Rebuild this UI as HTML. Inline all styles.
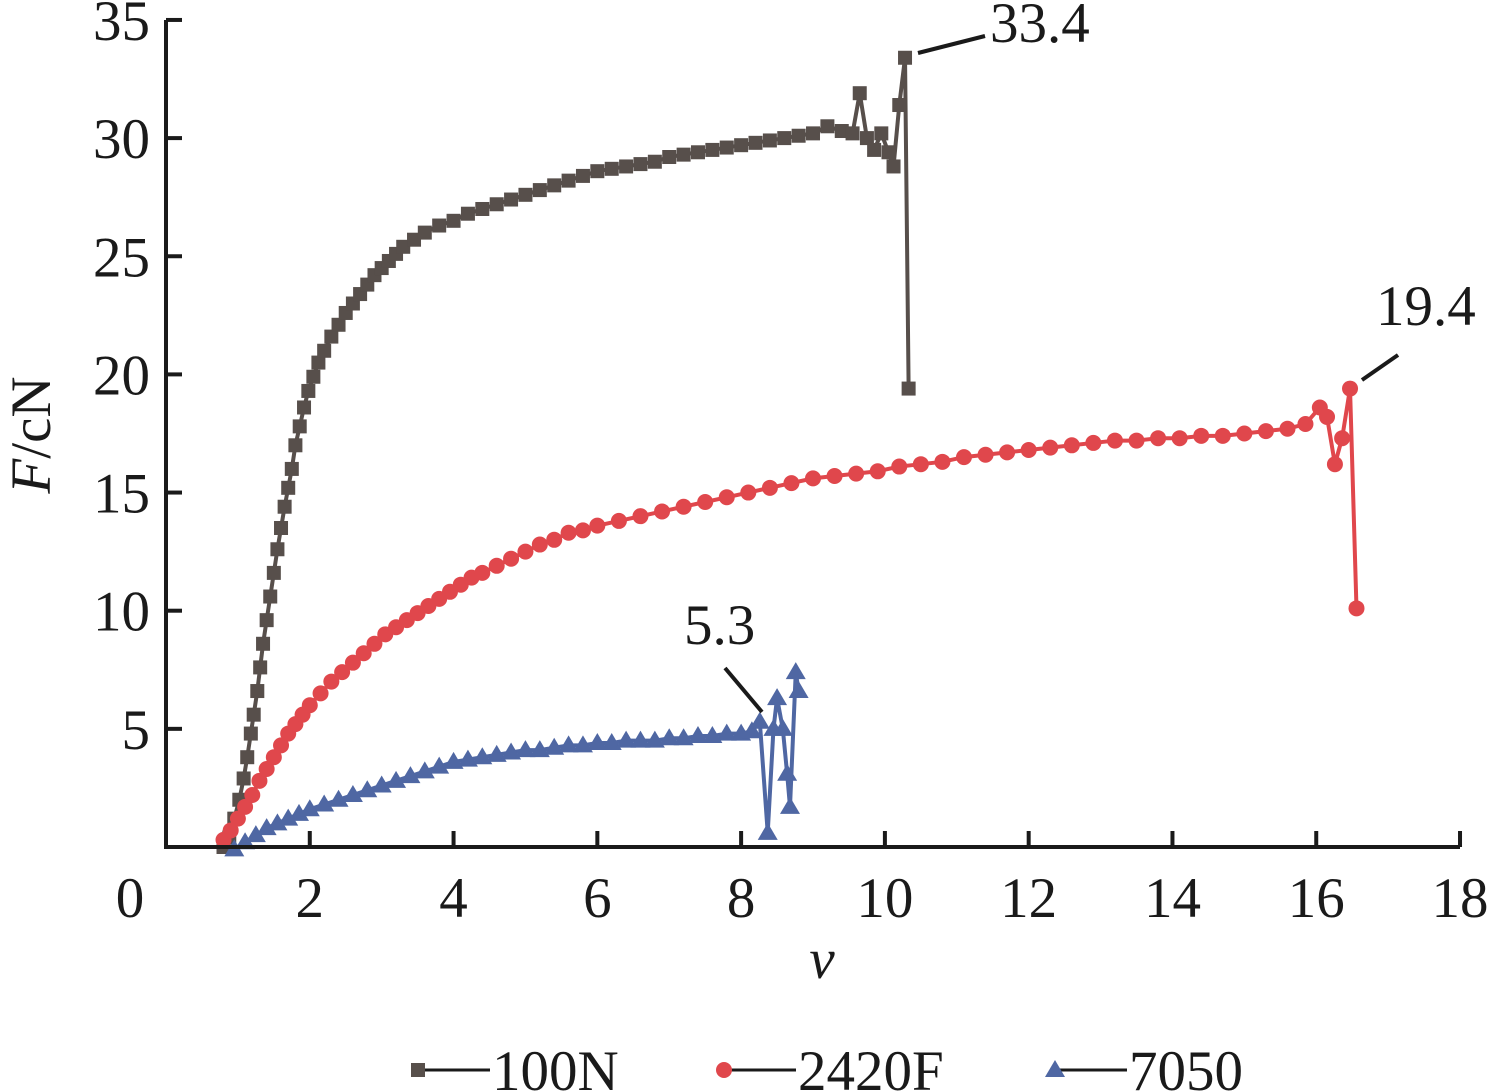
<!DOCTYPE html>
<html><head><meta charset="utf-8"><style>
body{margin:0;background:#fff}
svg{display:block}
text{font-family:"Liberation Serif",serif;fill:#1a1a1a}
</style></head><body>
<svg id="c" width="1496" height="1091"></svg>
<script>
const xTicks=[0,2,4,6,8,10,12,14,16,18];
const yTicks=[5,10,15,20,25,30,35];
const x100N=[0.8,0.88,0.95,1.02,1.08,1.13,1.18,1.22,1.27,1.31,1.35,1.4,1.45,1.5,1.55,1.6,1.65,1.7,1.75,1.8,1.86,1.92,1.98,2.05,2.12,2.2,2.3,2.4,2.5,2.6,2.7,2.8,2.9,3.0,3.1,3.2,3.3,3.45,3.6,3.8,4.0,4.2,4.4,4.6,4.8,5.0,5.2,5.4,5.6,5.8,6.0,6.2,6.4,6.6,6.8,7.0,7.2,7.4,7.6,7.8,8.0,8.2,8.4,8.6,8.8,9.0,9.2,9.4,9.55,9.65,9.75,9.85,9.95,10.05,10.12,10.2,10.28,10.33];
const y100N=[0,0.4,1.2,2.0,2.9,3.8,4.8,5.6,6.6,7.6,8.6,9.6,10.6,11.6,12.6,13.5,14.4,15.2,16.0,17.0,17.8,18.6,19.3,19.9,20.5,21.0,21.6,22.1,22.6,23.0,23.4,23.8,24.2,24.5,24.8,25.1,25.4,25.7,26.0,26.3,26.5,26.8,27.0,27.2,27.4,27.6,27.8,28.0,28.2,28.4,28.6,28.7,28.8,28.9,29.0,29.2,29.3,29.4,29.5,29.6,29.7,29.8,29.9,30.0,30.1,30.2,30.5,30.3,30.2,31.9,30.0,29.5,30.2,29.4,28.8,31.4,33.4,19.4];
const x2420F=[0.8,0.9,1.0,1.1,1.2,1.3,1.4,1.5,1.6,1.7,1.8,1.9,2.0,2.15,2.3,2.45,2.6,2.75,2.9,3.05,3.2,3.35,3.5,3.65,3.8,3.95,4.1,4.25,4.4,4.6,4.8,5.0,5.2,5.4,5.6,5.8,6.0,6.3,6.6,6.9,7.2,7.5,7.8,8.1,8.4,8.7,9.0,9.3,9.6,9.9,10.2,10.5,10.8,11.1,11.4,11.7,12.0,12.3,12.6,12.9,13.2,13.5,13.8,14.1,14.4,14.7,15.0,15.3,15.6,15.85,16.05,16.15,16.26,16.36,16.47,16.56];
const y2420F=[0.3,0.7,1.2,1.7,2.2,2.8,3.3,3.8,4.3,4.8,5.2,5.6,6.0,6.5,7.0,7.4,7.8,8.2,8.6,9.0,9.3,9.6,9.9,10.2,10.5,10.8,11.1,11.4,11.6,11.9,12.2,12.5,12.8,13.0,13.3,13.4,13.6,13.8,14.0,14.2,14.4,14.6,14.8,15.0,15.2,15.4,15.6,15.7,15.8,15.9,16.1,16.2,16.3,16.5,16.6,16.7,16.8,16.9,17.0,17.1,17.2,17.2,17.3,17.3,17.4,17.4,17.5,17.6,17.7,17.9,18.6,18.2,16.2,17.3,19.4,10.1];
const x7050=[0.95,1.1,1.25,1.4,1.55,1.7,1.85,2.0,2.2,2.4,2.6,2.8,3.0,3.2,3.4,3.6,3.8,4.0,4.2,4.4,4.6,4.8,5.0,5.2,5.4,5.6,5.8,6.0,6.2,6.4,6.6,6.8,7.0,7.2,7.4,7.6,7.8,8.0,8.15,8.26,8.37,8.45,8.5,8.58,8.64,8.68,8.76,8.8];
const y7050=[-0.1,0.2,0.5,0.8,1.0,1.2,1.4,1.6,1.8,2.0,2.2,2.4,2.6,2.8,3.0,3.2,3.4,3.6,3.7,3.8,3.9,4.0,4.1,4.1,4.2,4.3,4.3,4.4,4.4,4.5,4.5,4.5,4.6,4.6,4.7,4.7,4.8,4.8,4.9,5.3,0.6,5.0,6.3,5.0,3.1,1.7,7.4,6.6];
const NS='http://www.w3.org/2000/svg';
const svg=document.getElementById('c');
const X=v=>166+v*71.89, Y=v=>847-v*23.63;
function el(t,a,p){const e=document.createElementNS(NS,t);for(const k in a)e.setAttribute(k,a[k]);(p||svg).appendChild(e);return e;}
function txt(s,x,y,anchor,name,extra){const t=el('text',Object.assign({x:x,y:y,'font-size':57,'text-anchor':anchor},extra||{}));t.textContent=s;return t;}
function marker(type,cx,cy,col,g){let m;
 if(type==='sq')m=el('rect',{x:cx-7,y:cy-7,width:14,height:14,fill:col},g);
 else if(type==='ci')m=el('circle',{cx:cx,cy:cy,r:8,fill:col},g);
 else m=el('polygon',{points:`${cx},${cy-10} ${cx-10},${cy+7} ${cx+10},${cy+7}`,fill:col},g);
 return m;}
function series(name,xs,ys,col,type){
 const g=el('g',{});
 
 
 const pl=el('polyline',{points:xs.map((x,i)=>X(x)+','+Y(ys[i])).join(' '),fill:'none',stroke:col,'stroke-width':4},g);
 
 
 xs.forEach((x,i)=>{const m=marker(type,X(x),Y(ys[i]),col,g);
  
  });
}
series('100N',x100N,y100N,'#574f4b','sq');
series('2420F',x2420F,y2420F,'#e0474c','ci');
series('7050',x7050,y7050,'#4f67a3','tr');
const ax=el('path',{d:`M166,20 L166,847 L1460,847`,fill:'none',stroke:'#1a1a1a','stroke-width':4});

xTicks.forEach(v=>{if(v>0){const t=el('line',{x1:X(v),x2:X(v),y1:847,y2:831,stroke:'#1a1a1a','stroke-width':4});}
 txt(String(v),v===0?130:X(v),917,'middle','x-tick-label');});
yTicks.forEach(v=>{const t=el('line',{x1:166,x2:182,y1:Y(v),y2:Y(v),stroke:'#1a1a1a','stroke-width':4});
 txt(String(v),150,Y(v)+20,'end','y-tick-label');});
txt('v',822,978,'middle','x-axis-title',{'font-style':'italic'});
const yt=el('text',{x:0,y:0,'font-size':57,'text-anchor':'middle',transform:'translate(50,435) rotate(-90)'});

yt.innerHTML='<tspan font-style="italic">F</tspan>/cN';
[[918,53,985,36],[1362,380,1398,355],[725,668,762,712]].forEach(a=>{const l=el('line',{x1:a[0],y1:a[1],x2:a[2],y2:a[3],stroke:'#1a1a1a','stroke-width':4});});
txt('33.4',990,42,'start','annotation-33-4');
txt('19.4',1376,325,'start','annotation-19-4');
txt('5.3',684,644,'start','annotation-5-3');
const lg=el('g',{});
[['100N',418,'#574f4b','sq'],['2420F',724,'#e0474c','ci'],['7050',1055,'#4f67a3','tr']].forEach(e=>{
 const l=el('line',{x1:e[1],x2:e[1]+72,y1:1070,y2:1070,stroke:'#1a1a1a','stroke-width':3},lg);
 
 const m=marker(e[3],e[1],1070,e[2],lg);
 const t=txt(e[0],e[1]+74,1090,'start','legend-entry-'+e[0]);lg.appendChild(t);
});
</script>
</body></html>
